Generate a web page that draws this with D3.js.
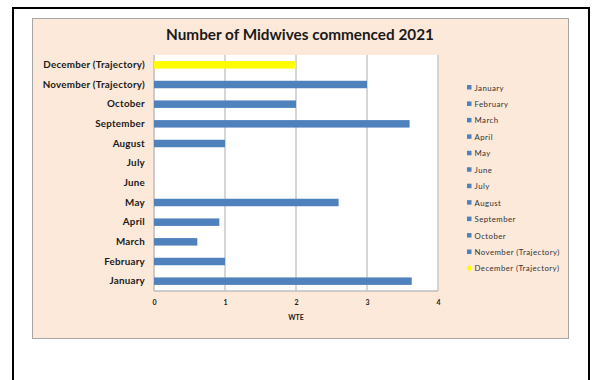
<!DOCTYPE html>
<html>
<head>
<meta charset="utf-8">
<script src="https://cdn.jsdelivr.net/npm/d3@7"></script>
<style>
  html, body { margin: 0; padding: 0; background: #ffffff; }
  svg { display: block; }
  text { font-family: Lato, "Open Sans", sans-serif; }
</style>
</head>
<body>
<svg id="chart" width="594" height="380"></svg>
<script>
// Months of 2021, bottom to top on the chart
const months = ["January", "February", "March", "April", "May", "June", "July",
  "August", "September", "October", "November (Trajectory)", "December (Trajectory)"];
// WTE commenced per month
const wte = [3.63, 1.0, 0.61, 0.92, 2.6, 0, 0, 1.0, 3.6, 2.0, 3.0, 2.0];
// Bar fill: actuals in blue, December trajectory in yellow
const barColors = ["#4F81BD", "#4F81BD", "#4F81BD", "#4F81BD", "#4F81BD", "#4F81BD",
  "#4F81BD", "#4F81BD", "#4F81BD", "#4F81BD", "#4F81BD", "#FFFF00"];
const xTicks = [0, 1, 2, 3, 4];
const titleText = "Number of Midwives commenced 2021";
const xTitle = "WTE";

const svg = d3.select("#chart");

// Frame around the page
svg.append("path")
  .attr("d", "M13,380 V8 H589 V380")
  .attr("fill", "none").attr("stroke", "#000").attr("stroke-width", 2);

// Chart area
svg.append("rect")
  .attr("x", 32.5).attr("y", 18.5).attr("width", 536).attr("height", 320)
  .attr("fill", "#FDE9D9").attr("stroke", "#A6A6A6").attr("stroke-width", 1);

const plot = { left: 154, top: 55, right: 438, bottom: 291 };

const x = d3.scaleLinear().domain([0, 4]).range([plot.left, plot.right]);
const y = d3.scaleBand().domain(months.slice().reverse())
  .range([plot.top, plot.bottom]).paddingInner(0.62).paddingOuter(0.31);

// Plot area
svg.append("rect")
  .attr("x", plot.left).attr("y", plot.top)
  .attr("width", plot.right - plot.left).attr("height", plot.bottom - plot.top)
  .attr("fill", "#ffffff");

// Vertical gridlines
svg.append("g")
  .selectAll("line").data(xTicks.slice(1)).join("line")
  .attr("x1", d => x(d)).attr("x2", d => x(d))
  .attr("y1", plot.top).attr("y2", plot.bottom)
  .attr("stroke", "#C8C8C8").attr("stroke-width", 1.5);

// Axis lines
svg.append("line")
  .attr("x1", plot.left).attr("x2", plot.left)
  .attr("y1", plot.top).attr("y2", plot.bottom)
  .attr("stroke", "#BEBEBE").attr("stroke-width", 1.5);
svg.append("line")
  .attr("x1", plot.left).attr("x2", plot.right)
  .attr("y1", plot.bottom).attr("y2", plot.bottom)
  .attr("stroke", "#BEBEBE").attr("stroke-width", 1.5);

// Bars
svg.append("g")
  .selectAll("rect").data(months).join("rect")
  .attr("x", x(0))
  .attr("y", d => y(d))
  .attr("width", (d, i) => x(wte[i]) - x(0))
  .attr("height", y.bandwidth())
  .attr("fill", (d, i) => barColors[i]);

// Category axis labels
const yAxis = d3.axisLeft(y).tickSize(0).tickPadding(9);
const gy = svg.append("g").attr("transform", `translate(${plot.left},0)`).call(yAxis);
gy.select(".domain").remove();
gy.selectAll("text")
  .style("font-family", "Lato, sans-serif")
  .style("letter-spacing", "0.25px")
  .attr("font-size", 9.8).attr("font-weight", 700).attr("fill", "#1a1a1a");

// Value axis labels
const xAxis = d3.axisBottom(x).tickValues(xTicks).tickSize(0).tickPadding(9)
  .tickFormat(d3.format("d"));
const gx = svg.append("g").attr("transform", `translate(0,${plot.bottom})`).call(xAxis);
gx.select(".domain").remove();
gx.selectAll("text")
  .style("font-family", "Lato, sans-serif")
  .attr("font-size", 7).attr("font-weight", 700).attr("fill", "#1a1a1a");

svg.append("text")
  .attr("x", x(2)).attr("y", 320)
  .attr("text-anchor", "middle")
  .attr("font-size", 7).attr("font-weight", 700).attr("fill", "#1a1a1a")
  .text(xTitle);

// Title
svg.append("text")
  .attr("x", 300).attr("y", 40)
  .attr("text-anchor", "middle")
  .attr("font-size", 15.3).attr("font-weight", 700).attr("fill", "#1a1a1a")
  .text(titleText);

// Legend
const legend = svg.append("g").attr("transform", "translate(467,88)");
const item = legend.selectAll("g").data(months).join("g")
  .attr("transform", (d, i) => `translate(0,${i * 16.45})`);
item.append("rect")
  .attr("x", 0).attr("y", -3).attr("width", 4.5).attr("height", 4.5)
  .attr("fill", (d, i) => barColors[i]);
item.append("text")
  .attr("x", 7.5).attr("y", 2.5)
  .attr("font-size", 7.8).attr("fill", "#333")
  .style("letter-spacing", "0.45px")
  .text(d => d);
</script>
</body>
</html>
